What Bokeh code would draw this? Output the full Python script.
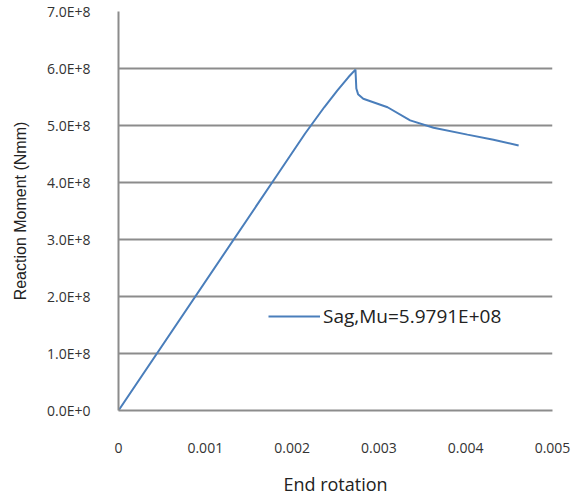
from bokeh.plotting import figure
from bokeh.models import Range1d, FixedTicker, Legend, LegendItem
from bokeh.embed import file_html
from bokeh.resources import INLINE

rotation = [0, 0.00177, 0.00215, 0.00237, 0.00252, 0.00265, 0.00273, 0.00274, 0.00276, 0.00282,
            0.0031, 0.00336, 0.00363, 0.00402, 0.00432, 0.00461]
moment = [0, 4.0e8, 4.86e8, 5.32e8, 5.61e8, 5.85e8, 5.98e8, 5.65e8, 5.55e8, 5.47e8,
          5.32e8, 5.09e8, 4.96e8, 4.84e8, 4.75e8, 4.65e8]
series_name = "Sag,Mu=5.9791E+08"
x_ticks = [0, 0.001, 0.002, 0.003, 0.004, 0.005]
x_tick_labels = ["0", "0.001", "0.002", "0.003", "0.004", "0.005"]
y_ticks = [0, 1e8, 2e8, 3e8, 4e8, 5e8, 6e8, 7e8]
y_tick_labels = ["0.0E+0", "1.0E+8", "2.0E+8", "3.0E+8", "4.0E+8", "5.0E+8", "6.0E+8", "7.0E+8"]

p = figure(width=580, height=499, output_backend="svg", toolbar_location=None,
           x_range=Range1d(0, 0.005), y_range=Range1d(0, 7e8),
           min_border_left=118, min_border_right=28, min_border_top=11, min_border_bottom=89)
p.outline_line_color = None
p.background_fill_color = "white"

r = p.line(rotation, moment, line_color="#4a7ebb", line_width=2)

grid_col = "#8c8c8c"
p.xgrid.grid_line_color = None
p.ygrid.grid_line_color = grid_col
p.ygrid.grid_line_width = 2
p.ygrid.ticker = FixedTicker(ticks=y_ticks)

p.xaxis.ticker = FixedTicker(ticks=x_ticks)
p.xaxis.major_label_overrides = {t: l for t, l in zip(x_ticks, x_tick_labels)}
p.yaxis.ticker = FixedTicker(ticks=y_ticks)
p.yaxis.major_label_overrides = {t: l for t, l in zip(y_ticks, y_tick_labels)}

for ax in (p.xaxis[0], p.yaxis[0]):
    ax.axis_line_color = grid_col
    ax.axis_line_width = 2
    ax.major_tick_line_color = None
    ax.minor_tick_line_color = None
    ax.major_label_text_font = "Open Sans"
    ax.major_label_text_font_size = "14px"
    ax.major_label_text_color = "#333333"
    ax.axis_label_text_font_style = "normal"
    ax.axis_label_text_color = "#222222"

p.xaxis.major_label_standoff = 26
p.yaxis.major_label_standoff = 22
p.xaxis.axis_label = "End rotation"
p.xaxis.axis_label_text_font = "Open Sans"
p.xaxis.axis_label_text_font_size = "18px"
p.xaxis.axis_label_standoff = 16
p.yaxis.axis_label = "Reaction Moment (Nmm)"
p.yaxis.axis_label_text_font = "Liberation Sans"
p.yaxis.axis_label_text_font_size = "16px"
p.yaxis.axis_label_standoff = 15

legend = Legend(items=[LegendItem(label=series_name, renderers=[r])],
                location=(150, 81), border_line_color=None, background_fill_alpha=0,
                label_text_font="Open Sans", label_text_font_size="19px",
                label_text_color="#222222", glyph_width=52, label_standoff=3,
                padding=0, margin=0)
p.add_layout(legend)

open("out.html", "w").write(file_html(p, INLINE))
